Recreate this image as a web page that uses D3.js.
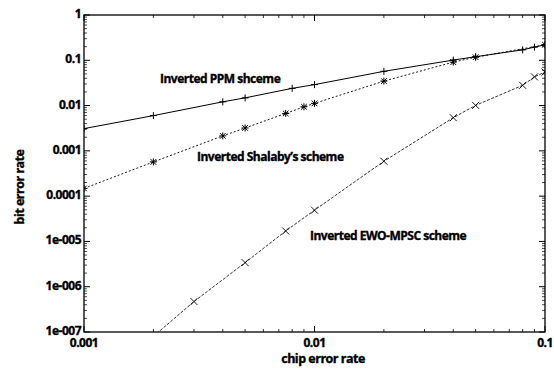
<!DOCTYPE html>
<html lang="en">
<head>
<meta charset="UTF-8">
<title>bit error rate vs chip error rate</title>
<script src="https://d3js.org/d3.v7.min.js"></script>
<style>
    body { margin: 0; background: #fff; }
    text { font-family: "Open Sans", sans-serif; font-weight: 700; fill: #000; stroke: #000; stroke-width: 0.35px; }
    .tick-label { font-size: 12px; letter-spacing: -0.5px; }
    .axis-title { font-size: 12.5px; letter-spacing: -0.5px; }
    .series-label { font-size: 12px; letter-spacing: -0.5px; }
</style>
</head>
<body>
<div id="chart"></div>
<script>
    // series data
    const ppmX = [0.001, 0.002, 0.004, 0.005, 0.008, 0.01, 0.02, 0.04, 0.05, 0.08, 0.09, 0.1];
    const ppmY = [0.0031, 0.006, 0.0121, 0.0148, 0.024, 0.029, 0.057, 0.101, 0.12, 0.17, 0.195, 0.22];

    const shalabyX = [0.001, 0.002, 0.004, 0.005, 0.0075, 0.009, 0.01, 0.02, 0.04, 0.05, 0.1];
    const shalabyY = [0.000148, 0.00057, 0.00214, 0.0032, 0.0067, 0.0094, 0.0112, 0.0347, 0.091, 0.117, 0.22];

    const ewoX = [0.002, 0.003, 0.005, 0.0075, 0.01, 0.02, 0.04, 0.05, 0.08, 0.09, 0.1];
    const ewoY = [8e-8, 4.7e-7, 3.4e-6, 1.7e-5, 4.9e-5, 5.9e-4, 0.0054, 0.0101, 0.028, 0.043, 0.055];

    const xTicks = [0.001, 0.01, 0.1];
    const xTickLabels = ["0.001", "0.01", "0.1"];
    const yTicks = [1e-7, 1e-6, 1e-5, 1e-4, 1e-3, 0.01, 0.1, 1];
    const yTickLabels = ["1e-007", "1e-006", "1e-005", "0.0001", "0.001", "0.01", "0.1", "1"];

    const seriesLabels = ["Inverted PPM shceme", "Inverted Shalaby\u2019s scheme", "Inverted EWO-MPSC scheme"];

    const W = 554, H = 373;
    const margin = { top: 15, right: 9, bottom: 41, left: 84 };
    const width = W - margin.left - margin.right;
    const height = H - margin.top - margin.bottom;

    const x = d3.scaleLog().domain([0.001, 0.1]).range([0, width]);
    const y = d3.scaleLog().domain([1e-7, 1]).range([height, 0]);

    const svg = d3.select("#chart").append("svg")
        .attr("width", W)
        .attr("height", H);

    const g = svg.append("g")
        .attr("transform", "translate(" + margin.left + "," + margin.top + ")");

    g.append("clipPath").attr("id", "clip")
        .append("rect").attr("width", width).attr("height", height);

    // minor ticks: 2..9 in each decade
    function minorTicks(lo, hi) {
        const out = [];
        for (let e = Math.log10(lo); e < Math.log10(hi); e++) {
            for (let k = 2; k <= 9; k++) out.push(k * Math.pow(10, e));
        }
        return out;
    }
    const xMinor = minorTicks(0.001, 0.1);
    const yMinor = minorTicks(1e-7, 1);

    const ticks = g.append("g").attr("stroke", "#000");
    const majorLen = 6, minorLen = 3;

    // x ticks, bottom and top, pointing inward
    xTicks.forEach(v => {
        ticks.append("line").attr("x1", x(v)).attr("x2", x(v)).attr("y1", height).attr("y2", height - majorLen).attr("stroke-width", 1);
        ticks.append("line").attr("x1", x(v)).attr("x2", x(v)).attr("y1", 0).attr("y2", majorLen).attr("stroke-width", 1);
    });
    xMinor.forEach(v => {
        ticks.append("line").attr("x1", x(v)).attr("x2", x(v)).attr("y1", height).attr("y2", height - minorLen).attr("stroke-width", 0.8);
        ticks.append("line").attr("x1", x(v)).attr("x2", x(v)).attr("y1", 0).attr("y2", minorLen).attr("stroke-width", 0.8);
    });
    // y ticks, left and right
    yTicks.forEach(v => {
        ticks.append("line").attr("x1", 0).attr("x2", majorLen).attr("y1", y(v)).attr("y2", y(v)).attr("stroke-width", 1);
        ticks.append("line").attr("x1", width).attr("x2", width - majorLen).attr("y1", y(v)).attr("y2", y(v)).attr("stroke-width", 1);
    });
    yMinor.forEach(v => {
        ticks.append("line").attr("x1", 0).attr("x2", minorLen).attr("y1", y(v)).attr("y2", y(v)).attr("stroke-width", 0.7);
        ticks.append("line").attr("x1", width).attr("x2", width - minorLen).attr("y1", y(v)).attr("y2", y(v)).attr("stroke-width", 0.7);
    });

    // frame
    g.append("rect")
        .attr("width", width).attr("height", height)
        .attr("fill", "none").attr("stroke", "#000").attr("stroke-width", 1.3);

    // tick labels
    g.selectAll(".xlab").data(xTicks).enter().append("text")
        .attr("class", "tick-label")
        .attr("x", d => x(d))
        .attr("y", height + 15)
        .attr("text-anchor", "middle")
        .text((d, i) => xTickLabels[i]);

    g.selectAll(".ylab").data(yTicks).enter().append("text")
        .attr("class", "tick-label")
        .attr("x", -3)
        .attr("y", d => y(d) + 3)
        .attr("text-anchor", "end")
        .text((d, i) => yTickLabels[i]);

    // axis titles
    svg.append("text")
        .attr("class", "axis-title")
        .attr("x", 323)
        .attr("y", 363)
        .attr("text-anchor", "middle")
        .text("chip error rate");

    svg.append("text")
        .attr("class", "axis-title")
        .attr("transform", "translate(24,187) rotate(-90)")
        .attr("text-anchor", "middle")
        .text("bit error rate");

    // series
    const plot = g.append("g").attr("clip-path", "url(#clip)");
    const line = d3.line().x(d => x(d[0])).y(d => y(d[1]));

    const ppm = ppmX.map((v, i) => [v, ppmY[i]]);
    const shalaby = shalabyX.map((v, i) => [v, shalabyY[i]]);
    const ewo = ewoX.map((v, i) => [v, ewoY[i]]);

    plot.append("path").datum(ppm).attr("d", line)
        .attr("fill", "none").attr("stroke", "#000").attr("stroke-width", 1);
    plot.append("path").datum(shalaby).attr("d", line)
        .attr("fill", "none").attr("stroke", "#000").attr("stroke-width", 0.9).attr("stroke-dasharray", "2,2");
    plot.append("path").datum(ewo).attr("d", line)
        .attr("fill", "none").attr("stroke", "#000").attr("stroke-width", 0.8).attr("stroke-dasharray", "3,1.5");

    const s = 3.5;
    // plus markers
    plot.selectAll(".plus").data(ppm).enter().append("path")
        .attr("d", d => {
            const px = x(d[0]), py = y(d[1]);
            return `M${px - s},${py}H${px + s}M${px},${py - s}V${py + s}`;
        })
        .attr("stroke", "#000").attr("stroke-width", 1);
    // asterisk markers
    plot.selectAll(".star").data(shalaby).enter().append("path")
        .attr("d", d => {
            const px = x(d[0]), py = y(d[1]);
            return `M${px - s},${py}H${px + s}M${px},${py - s}V${py + s}` +
                `M${px - s * 0.8},${py - s * 0.8}L${px + s * 0.8},${py + s * 0.8}` +
                `M${px - s * 0.8},${py + s * 0.8}L${px + s * 0.8},${py - s * 0.8}`;
        })
        .attr("stroke", "#000").attr("stroke-width", 1);
    // cross markers
    plot.selectAll(".cross").data(ewo).enter().append("path")
        .attr("d", d => {
            const px = x(d[0]), py = y(d[1]);
            return `M${px - s},${py - s}L${px + s},${py + s}M${px - s},${py + s}L${px + s},${py - s}`;
        })
        .attr("stroke", "#000").attr("stroke-width", 0.9);

    // in-plot labels
    const labelPos = [[160, 83], [197, 161], [310, 240]];
    svg.selectAll(".series-label").data(seriesLabels).enter().append("text")
        .attr("class", "series-label")
        .attr("x", (d, i) => labelPos[i][0])
        .attr("y", (d, i) => labelPos[i][1])
        .text(d => d);
</script>
</body>
</html>
